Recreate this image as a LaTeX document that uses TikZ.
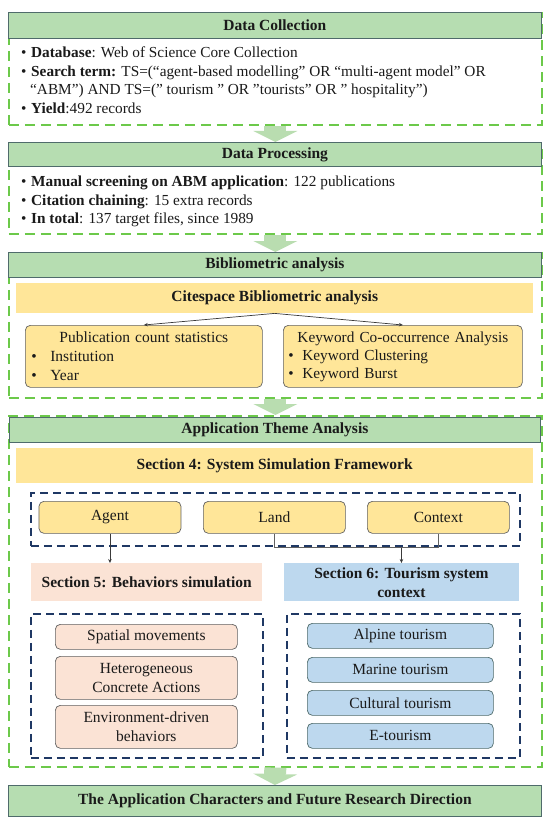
\documentclass[tikz,border=0pt]{standalone}
\usepackage{fontspec}
\setmainfont{Liberation Serif}
\usepackage{xcolor}
\usepackage{tikz}
\usetikzlibrary{arrows.meta,positioning,calc}
\definecolor{dashgreen}{HTML}{6CC94A}
\definecolor{hdrgreen}{HTML}{B6DDB1}
\definecolor{hdrline}{HTML}{4F6B6B}
\definecolor{flowgreen}{HTML}{B9DDB0}
\definecolor{softyellow}{HTML}{FFE699}
\definecolor{softpink}{HTML}{FBE3D5}
\definecolor{softblue}{HTML}{BDD8EE}
\definecolor{navy}{HTML}{1F3864}
\definecolor{ink}{HTML}{1A1A1A}
\definecolor{wire}{HTML}{3A3A3A}
\newcommand{\bul}{\makebox[10pt][l]{\textbullet}}
\newcommand{\ibul}{\makebox[19pt][l]{\textbullet}}
\newcommand{\sbul}{\makebox[14pt][l]{\textbullet}}
\tikzset{
    panelbox/.style={draw=dashgreen,line width=1.6pt,dash pattern=on 10pt off 6pt,
      inner sep=0pt,anchor=north west},
    hdrbar/.style={draw=hdrline,fill=hdrgreen,line width=0.8pt,inner sep=0pt,
      anchor=north west,text=ink,font=\bfseries\fontsize{15.5}{18}\selectfont},
    bodytext/.style={anchor=north west,inner sep=0pt,align=left,text=ink,
      font=\fontsize{15.3}{18.5}\selectfont},
    sectbar/.style={inner sep=0pt,anchor=north west,text=ink,align=center,
      font=\bfseries\fontsize{15.5}{19}\selectfont},
    ybox/.style={draw=wire!80,fill=softyellow,line width=0.7pt,rounded corners=5pt,
      inner sep=0pt,anchor=north west,text=ink,font=\fontsize{15.5}{19}\selectfont},
    pbox/.style={ybox,fill=softpink,align=center,font=\fontsize{15.5}{19}\selectfont},
    bbox/.style={ybox,fill=softblue,draw=hdrline,font=\fontsize{15.5}{19}\selectfont},
    navyframe/.style={draw=navy,line width=1.5pt,dash pattern=on 8pt off 5pt,
      inner sep=0pt,anchor=north west},
    flowarrow/.style={draw=flowgreen,line width=22pt,line cap=butt,
      -{Triangle[length=11pt,width=44pt,line width=0pt]}},
    thinarrow/.style={draw=wire,line width=0.7pt,-{Stealth[length=4pt,width=3.5pt]}},
    thinline/.style={draw=wire!80,line width=0.7pt}
}

\begin{document}
\begin{tikzpicture}[x=1pt,y=-1pt]
  \useasboundingbox[fill=white] (0,0) rectangle (550,824);

  % data collection
  \node[panelbox,minimum width=533pt,minimum height=112pt] (dc) at (8,12) {};
  \node[hdrbar,minimum width=533pt,minimum height=26pt] (dchdr) at (8,12) {Data Collection};
  \node[bodytext] (dctxt) at (21,47) {%
    \bul\textbf{Database}: Web of Science Core Collection\\
    \bul\textbf{Search term:} TS=(“agent-based modelling” OR “multi-agent model” OR\\
    \hspace*{9pt}“ABM”) AND TS=(" tourism " OR "tourists" OR " hospitality")\\
    \bul\textbf{Yield}:492 records};

  % data processing
  \node[panelbox,minimum width=533pt,minimum height=91pt] (dp) at (8,142) {};
  \node[hdrbar,minimum width=533pt,minimum height=24pt] (dphdr) at (8,142) {Data Processing};
  \node[bodytext] (dptxt) at (21,176) {%
    \bul\textbf{Manual screening on ABM application}: 122 publications\\
    \bul\textbf{Citation chaining}: 15 extra records\\
    \bul\textbf{In total}: 137 target files, since 1989};

  % bibliometric analysis
  \node[panelbox,minimum width=533pt,minimum height=145pt] (ba) at (8,252) {};
  \node[hdrbar,minimum width=533pt,minimum height=25pt] (bahdr) at (8,252) {Bibliometric analysis};
  \node[sectbar,fill=softyellow,minimum width=517pt,minimum height=30pt] (cite) at (16,283)
    {Citespace Bibliometric analysis};
  \node[ybox,minimum width=237pt,minimum height=62pt,text width=225pt,align=left] (pub) at (25,325)
    {\makebox[\linewidth]{Publication count statistics}\\
     \ibul Institution\\ \ibul Year};
  \node[ybox,minimum width=239pt,minimum height=62pt,text width=229pt,align=left,
    font=\fontsize{15.3}{18}\selectfont] (kw) at (283,325)
    {\makebox[\linewidth]{Keyword Co-occurrence Analysis}\\
     \sbul Keyword Clustering\\ \sbul Keyword Burst};
  \draw[thinarrow] (cite.south) -- (pub.north);
  \draw[thinarrow] (cite.south) -- (kw.north);

  % application theme analysis
  \node[panelbox,minimum width=533pt,minimum height=351pt] (ap) at (8,415) {};
  \node[hdrbar,minimum width=531pt,minimum height=25pt] (aphdr) at (9,417) {Application Theme Analysis};
  \node[sectbar,fill=softyellow,minimum width=517pt,minimum height=35pt] (sec4) at (16,448)
    {Section 4: System Simulation Framework};
  \node[navyframe,minimum width=489pt,minimum height=53pt] (fw) at (30,492) {};
  \foreach \n/\x/\t in {agent/38.6/Agent,land/203/Land,context/367/Context}
    \node[ybox,minimum width=142pt,minimum height=32pt] (\n) at (\x,501) {\t};

  \node[sectbar,fill=softpink,minimum width=231pt,minimum height=38pt] (sec5) at (31,563)
    {Section 5: Behaviors simulation};
  \node[sectbar,fill=softblue,minimum width=235.5pt,minimum height=38pt] (sec6) at (283.5,563)
    {Section 6: Tourism system\\context};

  \draw[thinarrow] (agent.south) -- (agent.south |- sec5.north);
  \coordinate (lc) at ($(land.south)+(0,14)$);
  \draw[thinline] (land.south) -- (lc) -| (context.south);
  \draw[thinarrow] (lc -| sec6.north) -- (sec6.north);

  \node[navyframe,minimum width=232pt,minimum height=144pt] (bfr) at (30,613) {};
  \node[navyframe,minimum width=233pt,minimum height=144pt] (tfr) at (286,613) {};
  \foreach \n/\y/\h/\t in {spat/624/25/Spatial movements,
      hetero/656/43/Heterogeneous\\Concrete Actions,
      envir/705/43/Environment-driven\\behaviors}
    \node[pbox,minimum width=182pt,minimum height=\h pt] (\n) at (55,\y) {\t};
  \foreach \n/\y/\t in {alp/623/Alpine tourism,mar/657/Marine tourism,
      cult/690/Cultural tourism,etour/723/E-tourism}
    \node[bbox,minimum width=186pt,minimum height=25pt] (\n) at (307,\y) {\t};

  % outcome
  \node[hdrbar,minimum width=533pt,minimum height=31pt] (fin) at (8,785)
    {The Application Characters and Future Research Direction};

  \foreach \a/\b in {dc/dp,dp/ba,ba/ap,ap/fin}
    \draw[flowarrow] (\a.south) -- (\b.north);
\end{tikzpicture}
\end{document}
